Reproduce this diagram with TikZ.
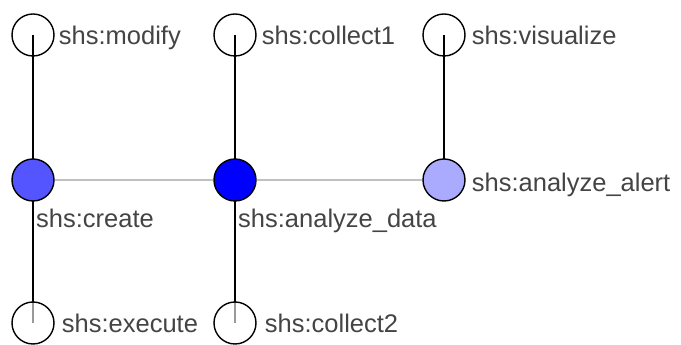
\documentclass[tikz,border=0pt]{standalone}
\usepackage{fontspec}
\usepackage{tikz}
\setmainfont{Liberation Sans}
\usetikzlibrary{positioning, backgrounds}
\definecolor{createblue}{RGB}{85,85,255}
\definecolor{datablue}{RGB}{0,0,255}
\definecolor{alertblue}{RGB}{170,170,255}
\definecolor{labelgray}{RGB}{68,68,68}
\definecolor{linkgray}{RGB}{192,192,192}

\begin{document}
\begin{tikzpicture}[
    x=1pt, y=1pt,
    res/.style={draw, circle, line width=1.4pt, minimum size=42pt, inner sep=0pt},
    hollow/.style={res, fill=white, fill opacity=0.6, draw opacity=1},
    lbl/.style={inner sep=0pt, text=labelgray, font=\fontsize{25.5}{28}\selectfont},
    link/.style={line width=1.4pt},
    peer/.style={line width=1.8pt, draw=linkgray}
]
    \useasboundingbox (0,0) rectangle (681,345);

    % middle row
    \node[res, fill=createblue] (create) at (33,165) {};
    \node[res, fill=datablue] (data) at (235,165) {};
    \node[res, fill=alertblue] (alert) at (444,165) {};

    % top row
    \node[res] (modify) at (33,310) {};
    \node[res] (collect1) at (235,310) {};
    \node[res] (visualize) at (444,310) {};

    % bottom row
    \node[hollow] (execute) at (33,22) {};
    \node[hollow] (collect2) at (235,22) {};

    \begin{scope}[on background layer]
        \draw[peer] (create) -- (data) -- (alert);
        \draw[link] (modify.center) -- (create.center);
        \draw[link] (collect1.center) -- (data.center);
        \draw[link] (visualize.center) -- (alert.center);
        \draw[link] (create.center) -- (execute.center);
        \draw[link] (data.center) -- (collect2.center);
    \end{scope}

    \node[lbl, anchor=base west] (modifylbl) at ([xshift=4pt, yshift=-10pt]modify.east) {shs:modify};
    \node[lbl, anchor=base west] (collect1lbl) at ([xshift=5pt, yshift=-10pt]collect1.east) {shs:collect1};
    \node[lbl, anchor=base west] (visualizelbl) at ([xshift=6pt, yshift=-10pt]visualize.east) {shs:visualize};
    \node[lbl, anchor=base west] (createlbl) at ([xshift=3pt, yshift=-48pt]create.center) {shs:create};
    \node[lbl, anchor=base west] (datalbl) at ([xshift=3pt, yshift=-48pt]data.center) {shs:analyze\_data};
    \node[lbl, anchor=base west] (alertlbl) at ([xshift=6pt, yshift=-12pt]alert.east) {shs:analyze\_alert};
    \node[lbl, anchor=base west] (executelbl) at ([xshift=7pt, yshift=-10pt]execute.east) {shs:execute};
    \node[lbl, anchor=base west] (collect2lbl) at ([xshift=8pt, yshift=-10pt]collect2.east) {shs:collect2};
\end{tikzpicture}
\end{document}
